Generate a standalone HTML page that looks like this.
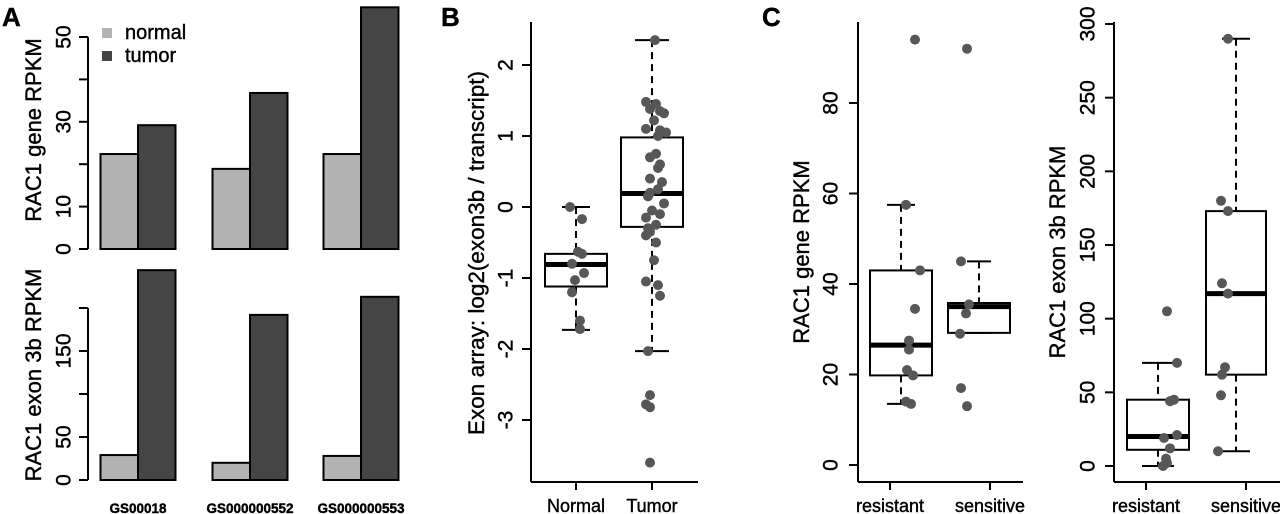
<!DOCTYPE html>
<html><head><meta charset="utf-8"><style>
html,body{margin:0;padding:0;background:#fff;}
svg{display:block;font-family:"Liberation Sans",Arial,sans-serif;}
</style></head><body>
<svg id="fig" width="1280" height="514" viewBox="0 0 1280 514" xmlns="http://www.w3.org/2000/svg"></svg>
<script>
// ---------- data ----------
const samplesA = ["GS00018","GS000000552","GS000000553"];
const geneNormal = [22.4, 18.9, 22.4];
const geneTumor = [29.2, 36.8, 57.0];
const exonNormal = [29, 20, 28];
const exonTumor = [244, 192, 213];
const geneTicks = [0,10,20,30,40,50];
const geneTickLabels = ["0","10","","30","","50"];
const exonTicks = [0,50,100,150,200];
const exonTickLabels = ["0","50","","150",""];

const groupsB = ["Normal","Tumor"];
const statsB = [ {lo:-1.73,q1:-1.12,med:-0.81,q3:-0.66,hi:0}, {lo:-2.03,q1:-0.28,med:0.19,q3:0.98,hi:2.35} ];
const pointsBNormal = [0,-0.17,-0.63,-0.66,-0.8,-0.93,-1.03,-1.2,-1.6,-1.72];
const jitterBNormal = [-6,6,2,6,-4,8,-1,-4,4,4];
const pointsBTumor = [2.35,1.48,1.45,1.38,1.35,1.32,1.22,1.1,1.08,1.05,1.0,0.75,0.7,0.6,0.55,0.4,0.35,0.25,0.2,0.15,0.05,-0.05,-0.1,-0.15,-0.25,-0.3,-0.35,-0.4,-0.5,-0.75,-1.05,-1.1,-1.25,-2.03,-2.65,-2.78,-2.82,-3.6];
const jitterBTumor = [3,-6,4,-2,8,12,2,-6,8,14,6,4,-2,8,6,-2,10,6,-2,-4,12,0,8,-6,4,-4,-2,-6,4,2,-6,6,8,-4,-2,-6,-2,-2];
const ticksB = [2,1,0,-1,-2,-3];

const groupsC = ["resistant","sensitive"];
const statsC1 = [ {lo:13.5,q1:19.8,med:26.5,q3:43,hi:57.5}, {lo:29.2,q1:29.2,med:35,q3:35.8,hi:45} ];
const pointsC1Res = [94,57.5,43,34.5,27.5,25.5,21,19.8,14,13.5];
const jitterC1Res = [14,5,19,14,8,8,6,12,5,10];
const pointsC1Sen = [92,45,35.5,33.5,29,17,13];
const jitterC1Sen = [-12,-18,-10,-13,-19,-18,-12];
const ticksC1 = [0,20,40,60,80];
const statsC2 = [ {lo:0,q1:11,med:20,q3:45,hi:70}, {lo:10,q1:62,med:117,q3:173,hi:290} ];
const pointsC2Res = [105,70,45,44,21,19,12,5,2,0];
const jitterC2Res = [9,19,16,12,19,6,12,8,9,5];
const pointsC2Sen = [290,180,173,124,117,67,62,48,10];
const jitterC2Sen = [-8,-15,-8,-14,-8,-11,-14,-15,-18];
const ticksC2 = [0,50,100,150,200,250,300];

// ---------- helpers ----------
const svg = document.getElementById('fig');
const NS = "http://www.w3.org/2000/svg";
function mk(tag, attrs, parent){ const e=document.createElementNS(NS,tag); for(const k in attrs) e.setAttribute(k,attrs[k]); (parent||svg).appendChild(e); return e; }
function lin(d0,d1,r0,r1){ return v => r0 + (v-d0)*(r1-r0)/(d1-d0); }
function line(x1,y1,x2,y2,extra,parent){ return mk('line',Object.assign({x1,y1,x2,y2,stroke:'#000','stroke-width':2},extra||{}),parent); }
function text(str,x,y,extra,parent){ const t=mk('text',Object.assign({x,y,'font-size':18,fill:'#000',stroke:'#000','stroke-width':0.4},extra||{}),parent); t.textContent=str; return t; }

function yAxis(g, x, scale, ticks, labels, lineFrom, lineTo, labelX){
  const a=line(x,lineFrom,x,lineTo,{},g);
  
  
  ticks.forEach((v,i)=>{
    const y=scale(v);
    const tk=line(x-9,y,x,y,{},g);
    
    
    const lab = labels ? labels[i] : String(v);
    if(lab){
      const t=text(lab,labelX,y,{'text-anchor':'middle',transform:`rotate(-90 ${labelX} ${y})`,'dominant-baseline':'middle','font-size':21},g);
      
      
    }
  });
}
function yTitle(g,str,x,y,fs){
  const t=text(str,x,y,{'text-anchor':'middle',transform:`rotate(-90 ${x} ${y})`,'dominant-baseline':'middle','font-size':fs||22},g);
  
  
}
function panelLabel(str,x,y){
  const t=text(str,x,y,{'font-size':26,'font-weight':'bold'});
  
  
}

// ---------- Panel A ----------
panelLabel('A',2,26);
const gA = mk('g',{});  
const groupCenters = [138,250,361];
const barW = 37.5;
const yGene = lin(0,50,249,37);
const yExon = lin(0,200,480,308);
function bars(scale, normal, tumor, tag){
  samplesA.forEach((s,i)=>{
    const c=groupCenters[i];
    const yn=scale(normal[i]), yt=scale(tumor[i]), y0=scale(0);
    const r1=mk('rect',{x:c-barW,y:yn,width:barW,height:y0-yn,fill:'#b3b3b3',stroke:'#000','stroke-width':2},gA);
    
    
    const r2=mk('rect',{x:c,y:yt,width:barW,height:y0-yt,fill:'#454545',stroke:'#000','stroke-width':2},gA);
    
    
  });
}
bars(yGene, geneNormal, geneTumor, 'gene');
bars(yExon, exonNormal, exonTumor, 'exon');
yAxis(gA, 88, yGene, geneTicks, geneTickLabels, yGene(0), yGene(50), 65);
yAxis(gA, 88, yExon, exonTicks, exonTickLabels, yExon(0), yExon(200), 65);
yTitle(gA,'RAC1 gene RPKM',35,130);
yTitle(gA,'RAC1 exon 3b RPKM',35,375);
samplesA.forEach((s,i)=>{
  const t=text(s,groupCenters[i],513,{'text-anchor':'middle','font-size':13.5,'font-weight':'bold'},gA);
  
  
});
// legend
const lg=mk('g',{},gA);  
const l1=mk('rect',{x:102,y:28,width:10,height:10,fill:'#b3b3b3'},lg);  
const l2=mk('rect',{x:102,y:51,width:10,height:10,fill:'#454545'},lg);  
const lt1=text('normal',125,39,{'font-size':20},lg);  
const lt2=text('tumor',125,62,{'font-size':20},lg);  

// ---------- box plot helper ----------
function boxPlot(g, scale, cx, halfW, capHalf, st, pts, jit, tag){
  const dash={'stroke-dasharray':'7,5'};
  const w1=line(cx,scale(st.hi),cx,scale(st.q3),dash,g);  
  const w2=line(cx,scale(st.q1),cx,scale(st.lo),dash,g);  
  const c1=line(cx-capHalf,scale(st.hi),cx+capHalf,scale(st.hi),{},g);  
  const c2=line(cx-capHalf,scale(st.lo),cx+capHalf,scale(st.lo),{},g);  
  const b=mk('rect',{x:cx-halfW,y:scale(st.q3),width:2*halfW,height:scale(st.q1)-scale(st.q3),fill:'#fff',stroke:'#000','stroke-width':2},g);
   
  const m=line(cx-halfW,scale(st.med),cx+halfW,scale(st.med),{'stroke-width':5},g);
   
  pts.forEach((v,i)=>{
    const p=mk('circle',{cx:cx+jit[i],cy:scale(v),r:5,fill:'#575757'},g);
     
  });
}
function xAxis(g, x0, x1, y, centers, labels){
  const a=line(x0,y,x1,y,{},g);  
  centers.forEach((c,i)=>{
    const tk=line(c,y,c,y+8,{},g);  
    const t=text(labels[i],c,512,{'text-anchor':'middle'},g);  
  });
}

// ---------- Panel B ----------
panelLabel('B',441,26);
const gB=mk('g',{});  
const yB=lin(0,1,207,136);
const xB=[576,652];
boxPlot(gB,yB,xB[0],31,14,statsB[0],pointsBNormal,jitterBNormal,'normal');
boxPlot(gB,yB,xB[1],31,17,statsB[1],pointsBTumor,jitterBTumor,'tumor');
yAxis(gB,531,yB,ticksB,null,22,482,507);
xAxis(gB,531,698,482,xB,groupsB);
yTitle(gB,'Exon array: log2(exon3b / transcript)',478,253,22.5);

// ---------- Panel C ----------
panelLabel('C',762,26);
const gC=mk('g',{});  
const yC1=lin(0,80,465,103);
const xC1=[890,990];
boxPlot(gC,yC1,901,31,14,statsC1[0],pointsC1Res,jitterC1Res,'gene-resistant');
boxPlot(gC,yC1,979,31,12,statsC1[1],pointsC1Sen,jitterC1Sen,'gene-sensitive');
yAxis(gC,858,yC1,ticksC1,null,22,482,832);
xAxis(gC,858,1023,482,xC1,groupsC);
yTitle(gC,'RAC1 gene RPKM',803,252);

const yC2=lin(0,300,466,24);
const xC2=[1146,1246];
boxPlot(gC,yC2,1158,31,16,statsC2[0],pointsC2Res,jitterC2Res,'exon-resistant');
boxPlot(gC,yC2,1236,30,14,statsC2[1],pointsC2Sen,jitterC2Sen,'exon-sensitive');
yAxis(gC,1114,yC2,ticksC2,null,22,482,1089);
xAxis(gC,1114,1280,482,xC2,groupsC);
yTitle(gC,'RAC1 exon 3b RPKM',1059,252);
</script>
</body></html>
